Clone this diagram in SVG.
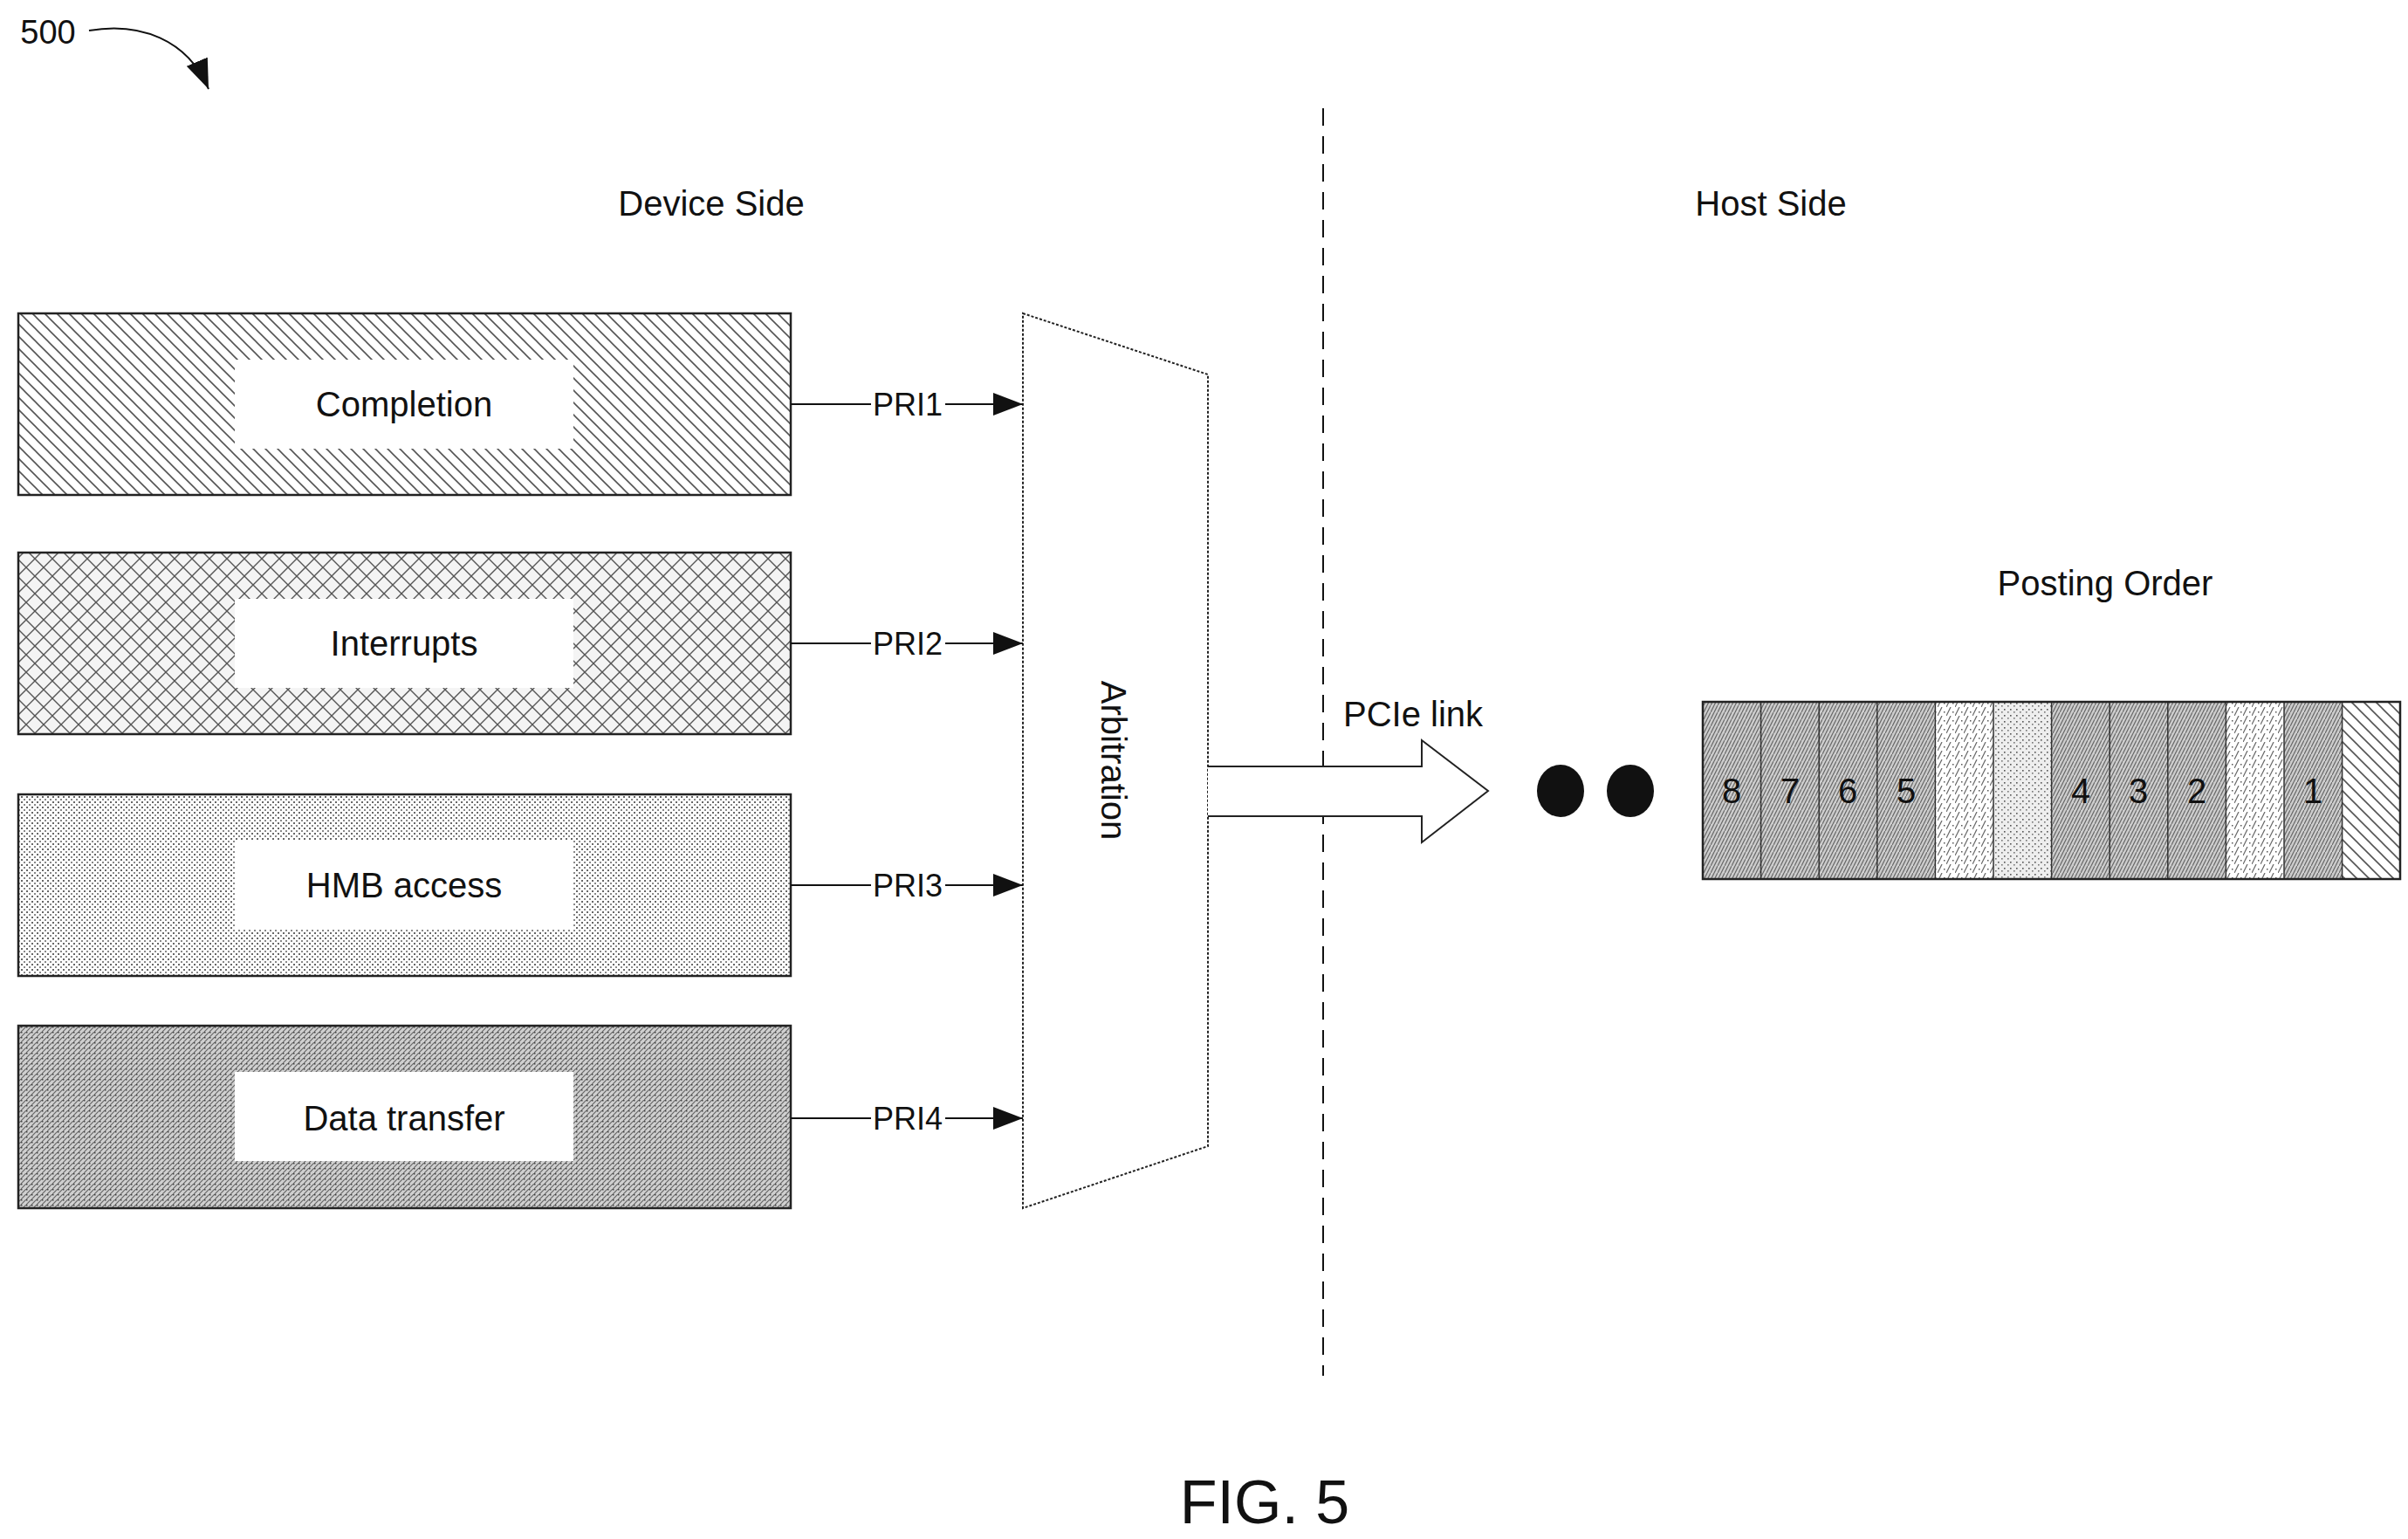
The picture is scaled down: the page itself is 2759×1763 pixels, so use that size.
<svg xmlns="http://www.w3.org/2000/svg" width="2759" height="1763" viewBox="0 0 2759 1763">
<style>
text{font-family:"Liberation Sans",Arial,sans-serif;fill:#111}
.t{font-size:40px;text-anchor:middle}
.p{font-size:36px;text-anchor:middle}
.ln{stroke:#111;stroke-width:2;fill:none}
.box{stroke:#222;stroke-width:2.5}
</style>
<defs>
<pattern id="pDiag" width="14" height="14" patternUnits="userSpaceOnUse"><rect width="14" height="14" fill="#fff"/><path d="M0,0L14,14M-7,7L7,21M7,-7L21,7" stroke="#555" stroke-width="1.6"/></pattern>
<pattern id="pCross" width="20" height="20" patternUnits="userSpaceOnUse"><rect width="20" height="20" fill="#f4f4f4"/><path d="M0,0L20,20M20,0L0,20" stroke="#555" stroke-width="1.4"/></pattern>
<pattern id="pDot" width="6" height="6" patternUnits="userSpaceOnUse"><rect width="6" height="6" fill="#fff"/><rect width="2" height="2" fill="#666"/><rect x="3" y="3" width="2" height="2" fill="#888"/></pattern>
<pattern id="pDense" width="6" height="6" patternUnits="userSpaceOnUse"><rect width="6" height="6" fill="#d0d0d0"/><path d="M0,6L6,0" stroke="#666" stroke-width="1.2"/><rect width="1.5" height="1.5" fill="#444"/></pattern>
<pattern id="pCol" width="8" height="8" patternUnits="userSpaceOnUse"><rect width="8" height="8" fill="#ccc"/><path d="M0,8L4,0M4,8L8,0" stroke="#666" stroke-width="1.2"/></pattern>
<pattern id="pLight" width="10" height="10" patternUnits="userSpaceOnUse"><rect width="10" height="10" fill="#fff"/><path d="M0,10L5,0" stroke="#666" stroke-width="1.2"/><rect x="7" y="5" width="1.5" height="1.5" fill="#555"/></pattern>
<pattern id="pSpeck" width="7" height="7" patternUnits="userSpaceOnUse"><rect width="7" height="7" fill="#eee"/><rect width="1.6" height="1.6" fill="#555"/><rect x="4" y="3" width="1.6" height="1.6" fill="#777"/></pattern>
<marker id="ah2" markerWidth="34" markerHeight="26" refX="34" refY="13" orient="auto" markerUnits="userSpaceOnUse"><path d="M0,0L34,13L0,26Z" fill="#111"/></marker>
</defs>
<rect width="2759" height="1763" fill="#fff"/>
<text x="55" y="50" style="font-size:38px" text-anchor="middle">500</text>
<path d="M102,35 C160,25 215,45 239,102" class="ln" marker-end="url(#ah2)"/>
<text class="t" x="815" y="247">Device Side</text>
<text class="t" x="2029" y="247">Host Side</text>
<line x1="1516" y1="124" x2="1516" y2="1576" stroke="#111" stroke-width="2" stroke-dasharray="20,12"/>
<g id="completion"><rect class="box" x="21" y="359" width="885" height="208" fill="url(#pDiag)"/><rect x="269" y="412" width="388" height="102" fill="#fff"/><text class="t" x="463" y="477">Completion</text></g>
<g id="interrupts"><rect class="box" x="21" y="633" width="885" height="208" fill="url(#pCross)"/><rect x="269" y="686" width="388" height="102" fill="#fff"/><text class="t" x="463" y="751">Interrupts</text></g>
<g id="hmb"><rect class="box" x="21" y="910" width="885" height="208" fill="url(#pDot)"/><rect x="269" y="963" width="388" height="102" fill="#fff"/><text class="t" x="463" y="1028">HMB access</text></g>
<g id="data"><rect class="box" x="21" y="1175" width="885" height="209" fill="url(#pDense)"/><rect x="269" y="1228" width="388" height="102" fill="#fff"/><text class="t" x="463" y="1295">Data transfer</text></g>
<g id="arbitration"><path d="M1172,359L1384,429L1384,1313L1172,1384Z" fill="#fff" stroke="#222" stroke-width="2" stroke-dasharray="3,2"/><text class="t" transform="translate(1262,871) rotate(90)">Arbitration</text></g>
<g id="connectors">
<line x1="906" y1="463" x2="998" y2="463" class="ln"/><line x1="1083" y1="463" x2="1172" y2="463" class="ln" marker-end="url(#ah2)"/><text class="p" x="1040" y="476">PRI1</text>
<line x1="906" y1="737" x2="998" y2="737" class="ln"/><line x1="1083" y1="737" x2="1172" y2="737" class="ln" marker-end="url(#ah2)"/><text class="p" x="1040" y="750">PRI2</text>
<line x1="906" y1="1014" x2="998" y2="1014" class="ln"/><line x1="1083" y1="1014" x2="1172" y2="1014" class="ln" marker-end="url(#ah2)"/><text class="p" x="1040" y="1027">PRI3</text>
<line x1="906" y1="1281" x2="998" y2="1281" class="ln"/><line x1="1083" y1="1281" x2="1172" y2="1281" class="ln" marker-end="url(#ah2)"/><text class="p" x="1040" y="1294">PRI4</text>
</g>
<g id="pcie"><path d="M1384,878L1629,878L1629,848L1705,906L1629,965L1629,935L1384,935" fill="#fff" stroke="#222" stroke-width="2"/><text class="t" x="1619" y="832">PCIe link</text></g>
<g id="dots"><ellipse cx="1788" cy="906" rx="27" ry="30" fill="#111"/><ellipse cx="1868" cy="906" rx="27" ry="30" fill="#111"/></g>
<g id="posting">
<text class="t" x="2412" y="682">Posting Order</text>
<rect x="1951" y="804" width="66.6" height="203" fill="url(#pCol)"/>
<rect x="2017.6" y="804" width="66.6" height="203" fill="url(#pCol)"/>
<rect x="2084.2" y="804" width="66.6" height="203" fill="url(#pCol)"/>
<rect x="2150.8" y="804" width="66.6" height="203" fill="url(#pCol)"/>
<rect x="2217.4" y="804" width="66.6" height="203" fill="url(#pLight)"/>
<rect x="2284" y="804" width="66.6" height="203" fill="url(#pSpeck)"/>
<rect x="2350.6" y="804" width="66.6" height="203" fill="url(#pCol)"/>
<rect x="2417.2" y="804" width="66.6" height="203" fill="url(#pCol)"/>
<rect x="2483.8" y="804" width="66.6" height="203" fill="url(#pCol)"/>
<rect x="2550.4" y="804" width="66.6" height="203" fill="url(#pLight)"/>
<rect x="2617" y="804" width="66.6" height="203" fill="url(#pCol)"/>
<rect x="2683.6" y="804" width="66.4" height="203" fill="url(#pDiag)"/>
<path d="M2017.6,804V1007M2084.2,804V1007M2150.8,804V1007M2217.4,804V1007M2284,804V1007M2350.6,804V1007M2417.2,804V1007M2483.8,804V1007M2550.4,804V1007M2617,804V1007M2683.6,804V1007" stroke="#333" stroke-width="1.5"/>
<rect x="1951" y="804" width="799" height="203" fill="none" stroke="#222" stroke-width="2.5"/>
<text class="t" x="1984" y="920">8</text><text class="t" x="2051" y="920">7</text><text class="t" x="2117" y="920">6</text><text class="t" x="2184" y="920">5</text><text class="t" x="2384" y="920">4</text><text class="t" x="2450" y="920">3</text><text class="t" x="2517" y="920">2</text><text class="t" x="2650" y="920">1</text>
</g>
<text x="1449" y="1745" style="font-size:70px" text-anchor="middle">FIG. 5</text>
</svg>
